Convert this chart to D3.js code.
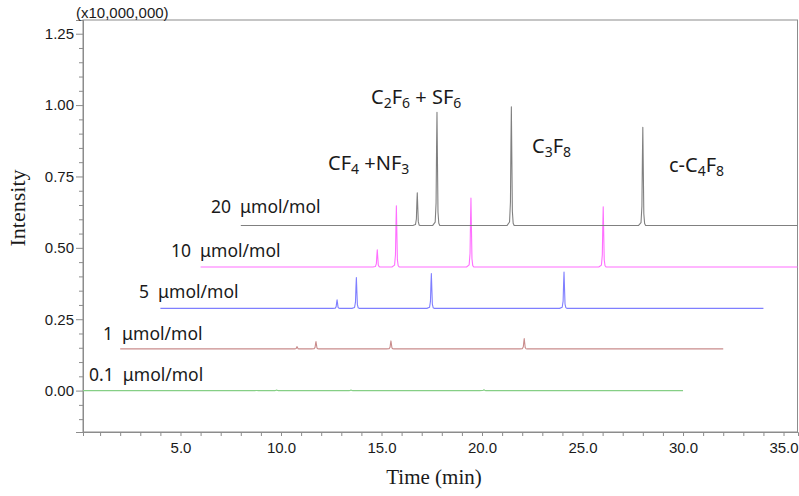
<!DOCTYPE html>
<html>
<head>
<meta charset="utf-8">
<script src="https://cdn.jsdelivr.net/npm/d3@7"></script>
<style>
  html, body { margin: 0; padding: 0; background: #fff; }
  svg { display: block; }
</style>
</head>
<body>
<svg id="chart" width="799" height="496"></svg>
<script>
// Stacked GC chromatograms of a PFC standard at five concentrations.
// Intensities are in units of 10,000,000 counts.

const concentrations = ["0.1", "1", "5", "10", "20"]; // μmol/mol

// Each run is offset in time (min) and intensity so the traces stack.
const timeOffset = [0, 2, 4, 6, 8];
const intensityOffset = [0, 0.146, 0.288, 0.433, 0.578];

// Run window (min, before offset)
const runStart = 0;
const runEnd = 30;

// Retention times (min) and peak heights above baseline, per run:
// CF4+NF3, C2F6+SF6, C3F8, c-C4F8
const retention_0_1 = [8.80, 9.78, 13.48, 20.10];
const height_0_1    = [0.0005, 0.002, 0.002, 0.003];
const retention_1   = [8.80, 9.74, 13.47, 20.10];
const height_1      = [0.008, 0.026, 0.028, 0.036];
const retention_5   = [8.79, 9.75, 13.48, 20.08];
const height_5      = [0.030, 0.108, 0.122, 0.127];
const retention_10  = [8.79, 9.74, 13.45, 20.03];
const height_10     = [0.060, 0.214, 0.241, 0.211];
const retention_20  = [8.78, 9.76, 13.46, 20.00];
const height_20     = [0.115, 0.397, 0.416, 0.344];

const retentionTimes = [retention_0_1, retention_1, retention_5, retention_10, retention_20];
const peakHeights = [height_0_1, height_1, height_5, height_10, height_20];

// Axis ticks
const yMajorTicks = [0.00, 0.25, 0.50, 0.75, 1.00, 1.25];
const xMajorTicks = [5, 10, 15, 20, 25, 30, 35];

// ---- drawing ----
const W = 799, H = 496;
const plot = { left: 83, right: 797.5, top: 20, bottom: 432 };

const x = d3.scaleLinear().domain([0.15, 35.72]).range([plot.left, plot.right + 0.5]);
const y = d3.scaleLinear().domain([-0.145, 1.298]).range([plot.bottom, plot.top]);

const svg = d3.select("#chart");

const traceColors = ["#86cf86", "#c98c8c", "#7f7fff", "#ff6fff", "#808080"];

// shape of a single eluting peak: time offset (min) vs fraction of apex height
const peakShapeDt   = [-0.22, -0.09, -0.045, -0.02, 0, 0.025, 0.05, 0.09, 0.14];
const peakShapeFrac = [0, 0.03, 0.2, 0.7, 1, 0.55, 0.12, 0.02, 0];

function tracePoints(i) {
  const pts = [[runStart, 0]];
  retentionTimes[i].forEach((rt, k) => {
    peakShapeDt.forEach((dt, j) => pts.push([rt + dt, peakHeights[i][k] * peakShapeFrac[j]]));
  });
  pts.push([runEnd, 0]);
  return pts;
}

svg.append("defs").append("clipPath").attr("id", "plotClip")
  .append("rect")
  .attr("x", plot.left).attr("y", plot.top)
  .attr("width", plot.right - plot.left).attr("height", plot.bottom - plot.top);

// frame
svg.append("rect")
  .attr("x", plot.left).attr("y", plot.top)
  .attr("width", plot.right - plot.left).attr("height", plot.bottom - plot.top)
  .attr("fill", "none").attr("stroke", "#8c8c8c").attr("stroke-width", 1);

// y axis: minor every 0.05, major every 0.25
const yMinorTicks = d3.range(-2, 26).map(v => v * 0.05)
  .filter(v => !yMajorTicks.some(m => Math.abs(m - v) < 1e-6));
const yMinor = svg.append("g").attr("transform", `translate(${plot.left},0)`)
  .call(d3.axisLeft(y).tickValues(yMinorTicks).tickSize(4).tickFormat(""));
const yMajor = svg.append("g").attr("transform", `translate(${plot.left},0)`)
  .call(d3.axisLeft(y).tickValues(yMajorTicks).tickSize(7).tickPadding(2).tickFormat(d3.format(".2f")));

// x axis: a tick every minute, labels every 5
const xAll = d3.range(1, 36);
const xAxis = svg.append("g").attr("transform", `translate(0,${plot.bottom})`)
  .call(d3.axisBottom(x).tickValues(xAll).tickSize(4).tickPadding(6)
    .tickFormat(d => xMajorTicks.includes(d) ? d.toFixed(1) : ""));

[yMinor, yMajor, xAxis].forEach(g => {
  g.select(".domain").attr("stroke", "#8c8c8c");
  g.selectAll(".tick line").attr("stroke", "#8c8c8c");
  g.selectAll(".tick text")
    .attr("fill", "#1a1a1a")
    .style("font-family", "'Liberation Sans', Arial, sans-serif")
    .style("font-size", "15px");
});

// traces
const line = d3.line()
  .x(d => d[0])
  .y(d => d[1]);

const traces = svg.append("g").attr("clip-path", "url(#plotClip)");
concentrations.forEach((c, i) => {
  const pts = tracePoints(i).map(p => [x(p[0] + timeOffset[i]), y(p[1] + intensityOffset[i])]);
  traces.append("path")
    .attr("d", line(pts))
    .attr("fill", "none")
    .attr("stroke", traceColors[i])
    .attr("stroke-width", 1.1)
    .attr("stroke-linejoin", "round");
});

// run labels
const labelFont = "'Noto Sans', 'Open Sans', sans-serif";
const runLabelPos = [[89, 381], [103, 340], [139, 298], [171, 257], [211, 213]];
concentrations.forEach((c, i) => {
  svg.append("text")
    .attr("x", runLabelPos[i][0]).attr("y", runLabelPos[i][1])
    .style("white-space", "pre")
    .style("font-family", labelFont)
    .style("font-size", "17.5px")
    .attr("fill", "#1a1a1a")
    .text(`${c}  μmol/mol`);
});

// compound labels with subscripts
const compoundLabels = [
  { parts: [["CF", 0], ["4", 1], [" +NF", 0], ["3", 1]], x: 328, y: 170 },
  { parts: [["C", 0], ["2", 1], ["F", 0], ["6", 1], [" + SF", 0], ["6", 1]], x: 371, y: 104 },
  { parts: [["C", 0], ["3", 1], ["F", 0], ["8", 1]], x: 532, y: 153 },
  { parts: [["c-C", 0], ["4", 1], ["F", 0], ["8", 1]], x: 669, y: 172 }
];
compoundLabels.forEach(lab => {
  const t = svg.append("text")
    .attr("x", lab.x).attr("y", lab.y)
    .style("white-space", "pre")
    .style("font-family", labelFont)
    .style("font-size", "20px")
    .attr("fill", "#1a1a1a");
  let sub = false;
  lab.parts.forEach(([s, isSub]) => {
    const ts = t.append("tspan").text(s);
    if (isSub && !sub) { ts.attr("dy", 4).style("font-size", "14px"); sub = true; }
    else if (isSub) { ts.style("font-size", "14px"); }
    else if (sub) { ts.attr("dy", -4); sub = false; }
  });
});

// multiplier
svg.append("text")
  .attr("x", 76).attr("y", 18)
  .style("font-family", "'Liberation Sans', Arial, sans-serif")
  .style("font-size", "15px")
  .attr("fill", "#1a1a1a")
  .text("(x10,000,000)");

// axis titles
svg.append("text")
  .attr("x", 434).attr("y", 484)
  .attr("text-anchor", "middle")
  .style("font-family", "'Liberation Serif', 'Times New Roman', serif")
  .style("font-size", "21px")
  .attr("fill", "#1a1a1a")
  .text("Time (min)");

svg.append("text")
  .attr("transform", "translate(25,208) rotate(-90)")
  .attr("text-anchor", "middle")
  .style("font-family", "'Liberation Serif', 'Times New Roman', serif")
  .style("font-size", "22px")
  .attr("fill", "#1a1a1a")
  .text("Intensity");
</script>
</body>
</html>
